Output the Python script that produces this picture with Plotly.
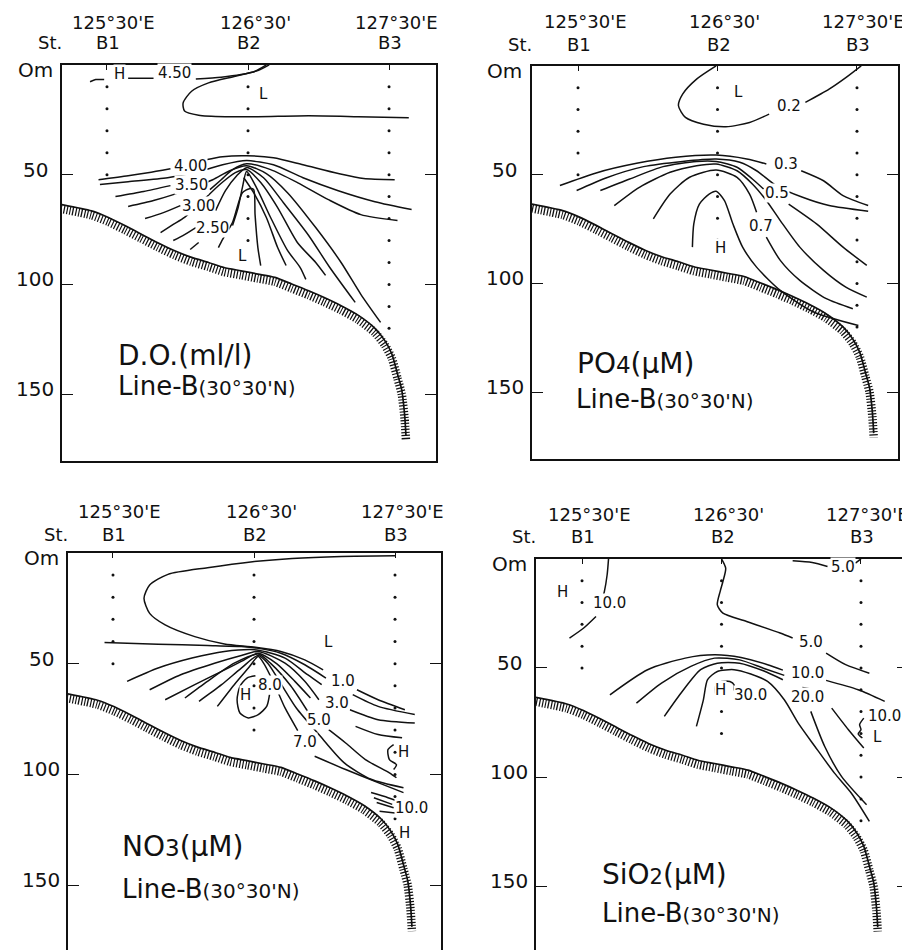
import plotly.graph_objects as go

FONT = "DejaVu Sans"
INK = "#111111"

# ---------------- shared data ----------------
station_lon = [125.5, 126.5, 127.5]
station_names = ["B1", "B2", "B3"]
lon_labels = ["125°30'E", "126°30'", "127°30'E"]
b1_depths = [10, 20, 30, 40, 50]
b2_depths = [10, 20, 30, 40, 50, 60, 70, 80]
b3_depths = [10, 20, 30, 40, 50, 60, 70, 80, 90, 100, 110, 120]
depth_ticks = [50, 100, 150]
depth_label_vals = [0, 50, 100, 150]
depth_labels = ["Om", "50", "100", "150"]

bottom_lon = [125.17, 125.39, 125.51, 125.63, 125.74, 125.86, 125.98, 126.10, 126.22, 126.33, 126.45,
              126.57, 126.69, 126.81, 126.93, 127.04, 127.16, 127.28, 127.40, 127.47, 127.52, 127.56,
              127.59, 127.61, 127.62]
bottom_dep = [63.5, 66.5, 69.5, 73.3, 77.0, 81.0, 84.7, 87.7, 90.0, 92.3, 93.8,
              95.3, 96.8, 99.8, 102.9, 106.0, 109.7, 114.0, 120.0, 125.6, 131.7, 140.8,
              148.0, 159.0, 168.8]

# ---------------- D.O. (ml/l) ----------------
do_a_lon = [125.38, 125.42, 125.48, None, 125.65, 125.83, None, 126.13, 126.31, 126.45, 126.57, 126.65]
do_a_dep = [7.7, 6.7, 6.7, None, 6.1, 6.1, None, 6.4, 5.6, 4.4, 2.6, 0.0]
do_b_lon = [126.63, 126.55, 126.41, 126.22, 126.10, 126.04, 126.05, 126.15, 126.34, 126.57, 126.93, 127.28, 127.64]
do_b_dep = [0.0, 2.9, 5.2, 8.2, 12.0, 17.3, 21.0, 22.9, 23.6, 23.6, 23.2, 23.6, 24.1]
do_400_lon = [125.44, 125.65, 125.79, 125.95, None, 126.20, 126.32, 126.49, 126.68, 126.89, 127.14, 127.32, 127.54]
do_400_dep = [52.3, 50.5, 49.1, 47.3, None, 43.2, 41.8, 41.4, 42.3, 45.5, 49.5, 51.8, 52.3]
do_375_lon = [125.45, 125.65, 125.93, 126.15, 126.32, 126.49, 126.68, 126.89, 127.14, 127.40, 127.66]
do_375_dep = [54.5, 53.2, 51.4, 48.6, 45.5, 43.6, 45.5, 51.4, 57.3, 62.3, 65.9]
do_350_lon = [125.56, 125.76, 125.95, None, 126.23, 126.31, 126.39, 126.49, 126.66, 126.85, 127.07, 127.30, 127.56]
do_350_dep = [60.0, 57.7, 55.0, None, 56.8, 52.3, 47.7, 45.0, 47.7, 53.6, 61.4, 68.2, 70.9]
do_325_lon = [125.65, 125.83, 125.97, 126.11, 126.25, 126.37, 126.49, 126.63, 126.78, 126.98, 127.16, 127.30, 127.44]
do_325_dep = [64.5, 61.8, 59.1, 55.9, 52.3, 48.2, 45.9, 49.5, 58.2, 74.1, 90.0, 104.5, 117.3]
do_300_lon = [125.77, 125.90, 126.02, None, 126.27, 126.34, 126.42, 126.49, 126.61, 126.75, 126.93, 127.08, 127.26]
do_300_dep = [70.0, 67.3, 64.1, None, 66.4, 57.3, 50.5, 46.8, 51.4, 62.7, 77.7, 92.3, 108.2]
do_275_lon = [125.88, 125.97, 126.05, 126.18, 126.30, 126.41, 126.49, 126.59, 126.71, 126.85, 126.98, 127.05]
do_275_dep = [76.4, 72.7, 69.5, 61.8, 54.5, 49.1, 47.7, 53.6, 65.0, 80.9, 90.0, 95.9]
do_250_lon = [125.97, 126.05, 126.13, None, 126.39, 126.43, 126.46, 126.49, 126.56, 126.66, 126.78, 126.87, 126.91]
do_250_dep = [80.0, 77.3, 74.1, None, 73.2, 65.0, 55.9, 48.6, 55.9, 69.5, 84.5, 92.3, 97.7]
do_225_lon = [126.09, 126.15, None, 126.47, 126.54, 126.63, 126.71, 126.77]
do_225_dep = [84.1, 80.9, None, 51.4, 58.2, 69.5, 83.2, 91.4]
do_200_lon = [126.29, 126.32, 126.39, 126.46, 126.51, 126.54, 126.55, 126.57, 126.59]
do_200_dep = [83.2, 79.5, 71.8, 58.2, 56.4, 56.8, 68.2, 83.2, 91.4]
do_lbl_text = ["H", "4.50", "L", "4.00", "3.50", "3.00", "2.50", "L"]
do_lbl_lon = [125.59, 125.98, 126.61, 126.09, 126.10, 126.15, 126.25, 126.46]
do_lbl_dep = [5.5, 5.0, 14.5, 47.3, 55.9, 65.5, 75.5, 88.6]

# ---------------- PO4 (uM) ----------------
po_02_lon = [126.49, 126.35, 126.25, 126.22, 126.27, 126.40, 126.56, 126.73, 126.87, None, 127.13, 127.30, 127.42, 127.53]
po_02_dep = [0.0, 6.1, 13.0, 18.3, 23.7, 26.8, 28.0, 26.0, 22.2, None, 16.8, 10.7, 5.4, 0.0]
po_03_lon = [125.37, 125.63, 125.92, 126.20, 126.49, 126.71, 126.85, None, 127.10, 127.26, 127.40, 127.58]
po_03_dep = [55.0, 49.2, 44.8, 42.0, 41.0, 42.8, 45.1, None, 48.2, 52.8, 59.6, 64.2]
po_04_lon = [125.49, 125.70, 125.97, 126.25, 126.49, 126.66, 126.78, 126.92, 127.11, 127.30, 127.58]
po_04_dep = [57.3, 51.5, 46.3, 43.9, 42.8, 44.3, 48.2, 55.0, 60.4, 64.2, 66.8]
po_05_lon = [125.66, 125.87, 126.11, 126.35, 126.49, 126.64, 126.75, 126.83, None, 127.01, 127.21, 127.40, 127.57]
po_05_dep = [57.3, 52.0, 46.3, 43.9, 43.9, 46.6, 52.0, 56.6, None, 63.5, 72.6, 83.3, 91.7]
po_06_lon = [125.76, 125.94, 126.16, 126.35, 126.49, 126.64, 126.75, 126.85, 126.95, 127.09, 127.26, 127.42, 127.57]
po_06_dep = [64.2, 55.8, 48.9, 45.9, 45.1, 48.2, 54.3, 61.9, 71.1, 83.3, 94.0, 101.7, 106.3]
po_07_lon = [126.04, 126.16, 126.30, 126.49, 126.64, 126.73, 126.78, None, 126.85, 126.95, 127.09, 127.28, 127.47]
po_07_dep = [70.3, 58.9, 51.2, 47.9, 51.2, 58.9, 67.3, None, 78.7, 89.4, 98.6, 107.0, 111.6]
po_08_lon = [126.32, 126.33, 126.37, 126.44, 126.49, 126.55, 126.61, 126.68, 126.78, 126.95, 127.19, 127.51]
po_08_dep = [83.3, 72.6, 63.5, 58.9, 57.6, 61.9, 72.6, 83.3, 92.5, 103.2, 113.1, 119.3]
po_lbl_text = ["L", "0.2", "0.3", "0.5", "0.7", "H"]
po_lbl_lon = [126.65, 127.01, 126.99, 126.93, 126.81, 126.52]
po_lbl_dep = [13.3, 19.9, 46.3, 59.6, 74.9, 85.2]

# ---------------- NO3 (uM) ----------------
no_t_lon = [127.50, 127.12, 126.77, 126.49, 126.17, 125.89, 125.76, 125.72, 125.76, 125.87, 126.08, 126.29, 126.51, 126.69, 126.86, 126.99]
no_t_dep = [1.3, 1.6, 2.5, 4.0, 6.7, 9.7, 14.5, 20.5, 27.3, 32.5, 37.8, 41.1, 42.6, 44.5, 48.3, 52.8]
no_10_lon = [125.44, 125.82, 126.17, 126.41, 126.52, 126.69, 126.86, 127.01, None, 127.23, 127.38, 127.57]
no_10_dep = [40.5, 41.2, 41.8, 42.3, 43.0, 45.3, 50.5, 56.5, None, 61.8, 66.3, 70.8]
no_20_lon = [125.60, 125.82, 126.06, 126.29, 126.52, 126.72, 126.88, 126.98, None, 127.20, 127.38, 127.64]
no_20_dep = [58.0, 52.0, 47.5, 44.5, 43.8, 47.5, 55.0, 59.5, None, 64.0, 69.3, 73.0]
no_30_lon = [125.76, 125.98, 126.22, 126.41, 126.53, 126.72, 126.86, 126.96, None, 127.18, 127.38, 127.64]
no_30_dep = [61.8, 55.0, 49.8, 46.3, 44.5, 49.8, 58.0, 66.3, None, 70.8, 75.3, 76.8]
no_40_lon = [125.87, 126.08, 126.27, 126.41, 126.53, 126.66, 126.79, 126.90, None, 127.22, 127.38, 127.55]
no_40_dep = [66.3, 59.5, 53.5, 49.0, 45.3, 50.0, 58.0, 65.5, None, 78.3, 82.0, 83.5]
no_50_lon = [126.01, 126.17, 126.36, 126.53, 126.62, 126.76, 126.88, None, 127.03, 127.15, 127.29, 127.46, 127.51]
no_50_dep = [65.5, 58.0, 49.8, 45.7, 50.0, 60.0, 71.5, None, 79.8, 85.8, 93.3, 99.3, 101.5]
no_60_lon = [126.11, 126.27, 126.41, 126.53, 126.60, 126.70, 126.80, 126.96, 127.14, 127.33, 127.56]
no_60_dep = [67.0, 59.5, 52.0, 46.3, 50.0, 60.0, 70.0, 82.0, 94.8, 102.2, 106.0]
no_70_lon = [126.24, 126.36, 126.46, 126.53, 126.57, 126.65, 126.72, 126.81, None, 126.93, 127.15, 127.38, 127.56]
no_70_dep = [69.3, 59.5, 52.0, 46.8, 50.0, 60.0, 70.0, 80.2, None, 91.8, 97.8, 103.7, 108.2]
no_80_lon = [126.61, 126.59, 126.53, 126.46, 126.40, 126.38, 126.40, 126.45, 126.51]
no_80_dep = [64.0, 69.3, 73.0, 74.5, 72.3, 66.3, 60.3, 56.5, 55.5]
no_h_lon = [127.49, 127.45, 127.46, 127.51, 127.49]
no_h_dep = [86.5, 88.8, 93.3, 95.6, 97.8]
no_c1_lon = [127.33, 127.45, 127.52]
no_c1_dep = [108.2, 110.5, 112.0]
no_c2_lon = [127.35, 127.48]
no_c2_dep = [110.5, 113.5]
no_c3_lon = [127.37, 127.49]
no_c3_dep = [112.7, 115.0]
no_c4_lon = [127.39, 127.50]
no_c4_dep = [116.6, 117.4]
no_lbl_text = ["L", "1.0", "3.0", "5.0", "7.0", "8.0", "H", "H", "10.0", "H"]
no_lbl_lon = [127.03, 127.13, 127.09, 126.96, 126.86, 126.61, 126.44, 127.56, 127.62, 127.57]
no_lbl_dep = [41.5, 59.1, 69.0, 77.0, 86.5, 61.2, 65.7, 91.3, 116.5, 127.7]

# ---------------- SiO2 (uM) ----------------
si_10a_lon = [125.69, 125.68, 125.66, 125.65, None, 125.60, 125.51, 125.41]
si_10a_dep = [0.0, 7.3, 15.0, 17.3, None, 26.4, 31.8, 36.3]
si_5a_lon = [126.50, 126.53, 126.51, 126.49, 126.47, 126.51, 126.68, 126.92, 127.01, None, 127.25, 127.39, 127.56]
si_5a_dep = [0.0, 4.3, 10.4, 15.0, 21.1, 24.9, 28.7, 34.0, 36.3, None, 43.2, 48.5, 52.4]
si_5b_lon = [127.01, 127.15, 127.26, None, 127.46, 127.50]
si_5b_dep = [0.9, 1.7, 3.5, None, 2.0, 0.0]
si_10_lon = [125.70, 125.97, 126.24, 126.45, 126.64, 126.83, 126.94, None, 127.25, 127.48, 127.67]
si_10_dep = [62.3, 50.8, 45.5, 44.0, 45.2, 48.5, 51.0, None, 55.7, 60.0, 65.3]
si_15_lon = [125.89, 126.07, 126.28, 126.45, 126.63, 126.80, 126.95, None, 127.08, 127.13, None, 127.29, 127.41, 127.52]
si_15_dep = [66.1, 56.9, 49.3, 45.5, 46.3, 50.1, 53.4, None, 58.9, 59.5, None, 68.4, 78.3, 86.7]
si_20_lon = [126.09, 126.21, 126.35, 126.47, 126.63, 126.80, 126.94, None, 127.14, 127.24, 127.36, 127.54]
si_20_dep = [72.2, 61.5, 50.8, 47.8, 47.8, 51.3, 55.4, None, 69.9, 86.0, 99.7, 112.7]
si_25_lon = [126.32, 126.37, 126.40, 126.47, 126.59, 126.71, 126.83, 126.95, 127.05, 127.17, 127.31, 127.43, 127.56]
si_25_dep = [76.8, 64.6, 55.4, 51.6, 50.8, 52.8, 56.2, 64.6, 75.3, 86.0, 98.2, 107.3, 120.3]
si_30_lon = [126.46, 126.46, 126.50, 126.56, 126.59, 126.59, 126.62]
si_30_dep = [63.1, 58.0, 56.2, 56.2, 57.7, 60.0, 62.3]
si_hook_lon = [127.52, 127.49, 127.50, 127.48, 127.51]
si_hook_dep = [73.0, 76.0, 78.3, 80.2, 82.1]
si_lbl_text = ["H", "10.0", "5.0", "5.0", "10.0", "20.0", "H", "30.0", "10.0", "L"]
si_lbl_lon = [125.36, 125.70, 127.37, 127.14, 127.12, 127.12, 126.49, 126.71, 127.67, 127.62]
si_lbl_dep = [16.5, 21.8, 5.0, 39.7, 53.6, 64.6, 61.5, 63.8, 73.5, 83.0]

# ---------------- layout of the four panels (pixels) ----------------
W, H = 910, 950
TXT_UP = 5  # glyphs sit low inside annotation boxes; lift them a little

panels = [
    dict(n=1, left=54, right=428, top=57, bottom=454, xr=[125.181, 127.833], yr=[180.45, 0],
         row1=19.5, row2=40, t1=(108, 353), t2=(108, 384),
         title1="D.O.(ml/l)",
         lines=[(do_a_lon, do_a_dep), (do_b_lon, do_b_dep), (do_400_lon, do_400_dep),
                (do_375_lon, do_375_dep), (do_350_lon, do_350_dep), (do_325_lon, do_325_dep),
                (do_300_lon, do_300_dep), (do_275_lon, do_275_dep), (do_250_lon, do_250_dep),
                (do_225_lon, do_225_dep), (do_200_lon, do_200_dep)],
         labels=(do_lbl_text, do_lbl_lon, do_lbl_dep)),
    dict(n=2, left=524, right=890, top=58, bottom=452, xr=[125.170, 127.794], yr=[180.7, 0],
         row1=19, row2=42, t1=(567, 361), t2=(566, 397),
         title1="PO<span style='font-size:23px'>4</span>(µM)",
         lines=[(po_02_lon, po_02_dep), (po_03_lon, po_03_dep), (po_04_lon, po_04_dep),
                (po_05_lon, po_05_dep), (po_06_lon, po_06_dep), (po_07_lon, po_07_dep),
                (po_08_lon, po_08_dep)],
         labels=(po_lbl_text, po_lbl_lon, po_lbl_dep)),
    dict(n=3, left=60, right=433, top=546, bottom=947, xr=[125.181, 127.826], yr=[180.6, 0],
         row1=510, row2=533, t1=(112, 845), t2=(112, 888),
         title1="NO<span style='font-size:23px'>3</span>(µM)",
         lines=[(no_t_lon, no_t_dep), (no_10_lon, no_10_dep), (no_20_lon, no_20_dep),
                (no_30_lon, no_30_dep), (no_40_lon, no_40_dep), (no_50_lon, no_50_dep),
                (no_60_lon, no_60_dep), (no_70_lon, no_70_dep), (no_80_lon, no_80_dep),
                (no_h_lon, no_h_dep), (no_c1_lon, no_c1_dep), (no_c2_lon, no_c2_dep),
                (no_c3_lon, no_c3_dep), (no_c4_lon, no_c4_dep)],
         labels=(no_lbl_text, no_lbl_lon, no_lbl_dep)),
    dict(n=4, left=528, right=900, top=552, bottom=950, xr=[125.170, 127.837], yr=[182.0, 0],
         row1=513, row2=535, t1=(592, 873), t2=(592, 912),
         title1="SiO<span style='font-size:21px'>2</span>(µM)",
         lines=[(si_10a_lon, si_10a_dep), (si_5a_lon, si_5a_dep), (si_5b_lon, si_5b_dep),
                (si_10_lon, si_10_dep), (si_15_lon, si_15_dep), (si_20_lon, si_20_dep),
                (si_25_lon, si_25_dep), (si_30_lon, si_30_dep), (si_hook_lon, si_hook_dep)],
         labels=(si_lbl_text, si_lbl_lon, si_lbl_dep)),
]

fig = go.Figure()
annotations = []
layout_axes = {}

line_style = dict(color=INK, width=1.5, shape="spline", smoothing=0.7)

for p in panels:
    n = p["n"]
    xkey = "xaxis" if n == 1 else f"xaxis{n}"
    ykey = "yaxis" if n == 1 else f"yaxis{n}"
    xref = "x" if n == 1 else f"x{n}"
    yref = "y" if n == 1 else f"y{n}"

    layout_axes[xkey] = dict(
        domain=[p["left"] / W, p["right"] / W], range=p["xr"], anchor=yref,
        side="top", showline=True, mirror=True, linecolor=INK, linewidth=1.6,
        ticks="inside", tickvals=station_lon, ticklen=5, tickcolor=INK, tickwidth=1.2,
        showticklabels=False, showgrid=False, zeroline=False, fixedrange=True)
    layout_axes[ykey] = dict(
        domain=[1 - p["bottom"] / H, 1 - p["top"] / H], range=p["yr"], anchor=xref,
        showline=True, mirror="ticks", linecolor=INK, linewidth=1.6,
        ticks="inside", tickvals=depth_ticks, ticklen=11, tickcolor=INK, tickwidth=1.4,
        showticklabels=False, showgrid=False, zeroline=False, fixedrange=True)

    # sea bottom: hatched band + outline
    hatch_dep = [d + 2.0 for d in bottom_dep]
    fig.add_trace(go.Scatter(x=bottom_lon, y=hatch_dep, xaxis=xref, yaxis=yref, mode="lines",
                             line=dict(color=INK, width=8.5, dash="1.2px,1.8px", shape="spline", smoothing=0.6),
                             hoverinfo="skip", showlegend=False))
    fig.add_trace(go.Scatter(x=bottom_lon, y=bottom_dep, xaxis=xref, yaxis=yref, mode="lines",
                             line=dict(color=INK, width=1.7, shape="spline", smoothing=0.6),
                             hoverinfo="skip", showlegend=False))

    # sampling points at the stations
    sx, sy = [], []
    for lon, deps in zip(station_lon, [b1_depths, b2_depths, b3_depths]):
        sx += [lon] * len(deps)
        sy += deps
    fig.add_trace(go.Scatter(x=sx, y=sy, xaxis=xref, yaxis=yref, mode="markers",
                             marker=dict(color=INK, size=3), hoverinfo="skip", showlegend=False))

    # isolines
    for lx, ly in p["lines"]:
        fig.add_trace(go.Scatter(x=lx, y=ly, xaxis=xref, yaxis=yref, mode="lines",
                                 line=line_style, connectgaps=False,
                                 hoverinfo="skip", showlegend=False))

    # isoline labels
    for t, lx, ly in zip(*p["labels"]):
        annotations.append(dict(text=t, x=lx, y=ly, xref=xref, yref=yref, showarrow=False,
                                yshift=3, font=dict(family=FONT, size=15, color=INK),
                                bgcolor="white", borderpad=0))

    # top labels: longitudes and station names
    for lon, lab, st in zip(station_lon, lon_labels, station_names):
        annotations.append(dict(text=lab, x=lon, y=1 - p["row1"] / H, xref=xref, yref="paper",
                                xshift=7, yshift=TXT_UP, showarrow=False,
                                xanchor="center", yanchor="middle",
                                font=dict(family=FONT, size=18, color=INK)))
        annotations.append(dict(text=st, x=lon, y=1 - p["row2"] / H, xref=xref, yref="paper",
                                xshift=1, yshift=TXT_UP, showarrow=False,
                                xanchor="center", yanchor="middle",
                                font=dict(family=FONT, size=18, color=INK)))
    annotations.append(dict(text="St.", x=(p["left"] - 12) / W, y=1 - p["row2"] / H,
                            xref="paper", yref="paper", showarrow=False, yshift=TXT_UP,
                            xanchor="center", yanchor="middle",
                            font=dict(family=FONT, size=18, color=INK)))

    # depth labels
    for v, lab in zip(depth_label_vals, depth_labels):
        annotations.append(dict(text=lab, x=(p["left"] - 27) / W, y=v, xref="paper", yref=yref,
                                yshift=(TXT_UP - 10 if v == 0 else TXT_UP), showarrow=False,
                                xanchor="center", yanchor="middle",
                                font=dict(family=FONT, size=20, color=INK)))

    # panel titles
    annotations.append(dict(text=p["title1"], x=p["t1"][0] / W, y=1 - p["t1"][1] / H,
                            xref="paper", yref="paper", showarrow=False, yshift=TXT_UP,
                            xanchor="left", yanchor="middle",
                            font=dict(family=FONT, size=28, color=INK)))
    annotations.append(dict(text="Line-B<span style='font-size:20px'>(30°30'N)</span>",
                            x=p["t2"][0] / W, y=1 - p["t2"][1] / H,
                            xref="paper", yref="paper", showarrow=False, yshift=TXT_UP,
                            xanchor="left", yanchor="middle",
                            font=dict(family=FONT, size=26, color=INK)))

fig.update_layout(
    width=W, height=H, margin=dict(l=0, r=0, t=0, b=0),
    paper_bgcolor="white", plot_bgcolor="white",
    font=dict(family=FONT, color=INK),
    showlegend=False, annotations=annotations, **layout_axes)

fig.write_html("out.html")
